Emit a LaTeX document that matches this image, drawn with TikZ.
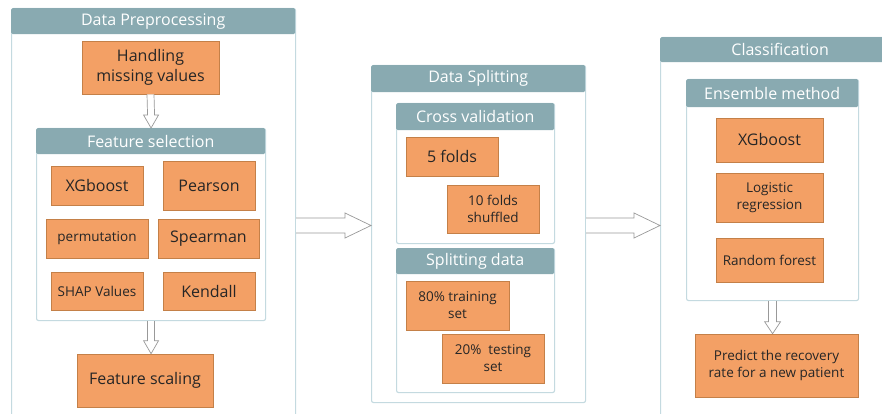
\documentclass[tikz,border=0pt]{standalone}
\usepackage{fontspec}
\setmainfont{Open Sans}
\usepackage{tikz}
\usetikzlibrary{positioning,calc}
\usepackage{xcolor}
\newcommand{\bigtxt}{\fontsize{16}{20}\selectfont}
\newcommand{\smalltxt}{\fontsize{13.5}{17}\selectfont}
\definecolor{headgrey}{RGB}{137,170,177}
\definecolor{frameblue}{RGB}{196,218,224}
\definecolor{taskfill}{RGB}{243,160,101}
\definecolor{taskline}{RGB}{196,128,72}

\begin{document}
\begin{tikzpicture}[
    x=1pt, y=-1pt,
    panel/.style={draw=frameblue, fill=white, line width=1.1pt, rounded corners=2pt,
                  inner sep=0pt, anchor=north west},
    head/.style={fill=headgrey, text=white, rounded corners=1.5pt, inner sep=0pt,
                 anchor=north west, font=\bigtxt},
    task/.style={draw=taskline, fill=taskfill, line width=0.6pt, align=center,
                 inner sep=1pt, text=black!85, font=\bigtxt},
    smalltask/.style={task, font=\smalltxt},
    flow/.style={draw=black!40, fill=white, line width=0.7pt, line join=miter}
]
\useasboundingbox (0,0) rectangle (882,414);

% three stages
\node[panel, minimum width=284, minimum height=440] (prep) at (11,8) {};
\node[head, minimum width=284, minimum height=26] (prephead) at (prep.north west) {Data Preprocessing};
\node[panel, minimum width=214, minimum height=337] (split) at (371,65) {};
\node[head, minimum width=214, minimum height=27] (splithead) at (split.north west) {Data Splitting};
\node[panel, minimum width=240, minimum height=400] (cls) at (660,37) {};
\node[head, minimum width=240, minimum height=25] (clshead) at (cls.north west) {Classification};

% preprocessing
\node[task, minimum width=137, minimum height=53] (hmv) at (150.5,67.5) {Handling\\missing values};
\node[panel, minimum width=229, minimum height=192] (fs) at (36,128) {};
\node[head, minimum width=229, minimum height=26] (fshead) at (fs.north west) {Feature selection};
\node[task, minimum width=92, minimum height=39]       (xgb1) at (97,185.5)  {XGboost};
\node[task, minimum width=92, minimum height=49]       (pear) at (209,185.5) {Pearson};
\node[smalltask, minimum width=102, minimum height=39] (perm) at (97,238.5)  {permutation};
\node[task, minimum width=101, minimum height=39]      (spear) at (208.5,238.5) {Spearman};
\node[smalltask, minimum width=92, minimum height=38]  (shap) at (97,291)    {SHAP Values};
\node[task, minimum width=92, minimum height=38]       (kend) at (209,291)   {Kendall};
\node[task, minimum width=136, minimum height=53] (fsc) at (145,380.5) {Feature scaling};

% splitting
\node[panel, minimum width=158, minimum height=140] (cv) at (396,103) {};
\node[head, minimum width=158, minimum height=27] (cvhead) at (cv.north west) {Cross validation};
\node[task, minimum width=92, minimum height=39]      (five) at (452,156.5) {5 folds};
\node[smalltask, minimum width=92, minimum height=48] (ten)  at (493,209)   {10 folds\\shuffled};
\node[panel, minimum width=158, minimum height=144] (sd) at (396,248) {};
\node[head, minimum width=158, minimum height=26] (sdhead) at (sd.north west) {Splitting data};
\node[smalltask, minimum width=103, minimum height=49] (train) at (457.5,305.5) {80\% training\\set};
\node[smalltask, minimum width=102, minimum height=49] (test)  at (493,358.5)   {20\%\ \ testing\\set};

% classification
\node[panel, minimum width=172, minimum height=221] (ens) at (686,79) {};
\node[head, minimum width=172, minimum height=28] (enshead) at (ens.north west) {Ensemble method};
\node[task, minimum width=107, minimum height=44]      (xgb2)  at (769.5,140)   {XGboost};
\node[smalltask, minimum width=107, minimum height=49] (logit) at (769.5,197.5) {Logistic\\regression};
\node[smalltask, minimum width=107, minimum height=44] (rf)    at (769.5,260)   {Random forest};
\node[smalltask, minimum width=163, minimum height=63] (pred)  at (776.5,365.5) {Predict the recovery\\rate for a new patient};

% hollow arrows
\coordinate (lane) at (0,225.5);
\draw[flow] ($(hmv.south)+(-3.5,0)$) -- ($(fs.north)+(-3.5,-13)$) -- ($(fs.north)+(-7.5,-13)$)
    -- (fs.north) -- ($(fs.north)+(7.5,-13)$) -- ($(fs.north)+(3.5,-13)$) -- ($(hmv.south)+(3.5,0)$);
\draw[flow] ($(fs.south)+(-3.5,0)$) -- ($(fs.south |- fsc.north)+(-3.5,-13)$) -- ($(fs.south |- fsc.north)+(-7.5,-13)$)
    -- (fs.south |- fsc.north) -- ($(fs.south |- fsc.north)+(7.5,-13)$) -- ($(fs.south |- fsc.north)+(3.5,-13)$)
    -- ($(fs.south)+(3.5,0)$);
\draw[flow] ($(ens.south)+(-4,0)$) -- ($(ens.south |- pred.north)+(-4,-12)$) -- ($(ens.south |- pred.north)+(-8,-12)$)
    -- (ens.south |- pred.north) -- ($(ens.south |- pred.north)+(8,-12)$) -- ($(ens.south |- pred.north)+(4,-12)$)
    -- ($(ens.south)+(4,0)$);
\draw[flow] ($(prep.east |- lane)+(0,-7.5)$) -- ($(split.west |- lane)+(-26,-7.5)$) -- ($(split.west |- lane)+(-26,-12.5)$)
    -- (split.west |- lane) -- ($(split.west |- lane)+(-26,12.5)$) -- ($(split.west |- lane)+(-26,7.5)$)
    -- ($(prep.east |- lane)+(0,7.5)$);
\draw[flow] ($(split.east |- lane)+(0,-7.5)$) -- ($(cls.west |- lane)+(-26,-7.5)$) -- ($(cls.west |- lane)+(-26,-12.5)$)
    -- (cls.west |- lane) -- ($(cls.west |- lane)+(-26,12.5)$) -- ($(cls.west |- lane)+(-26,7.5)$)
    -- ($(split.east |- lane)+(0,7.5)$);
\end{tikzpicture}
\end{document}
